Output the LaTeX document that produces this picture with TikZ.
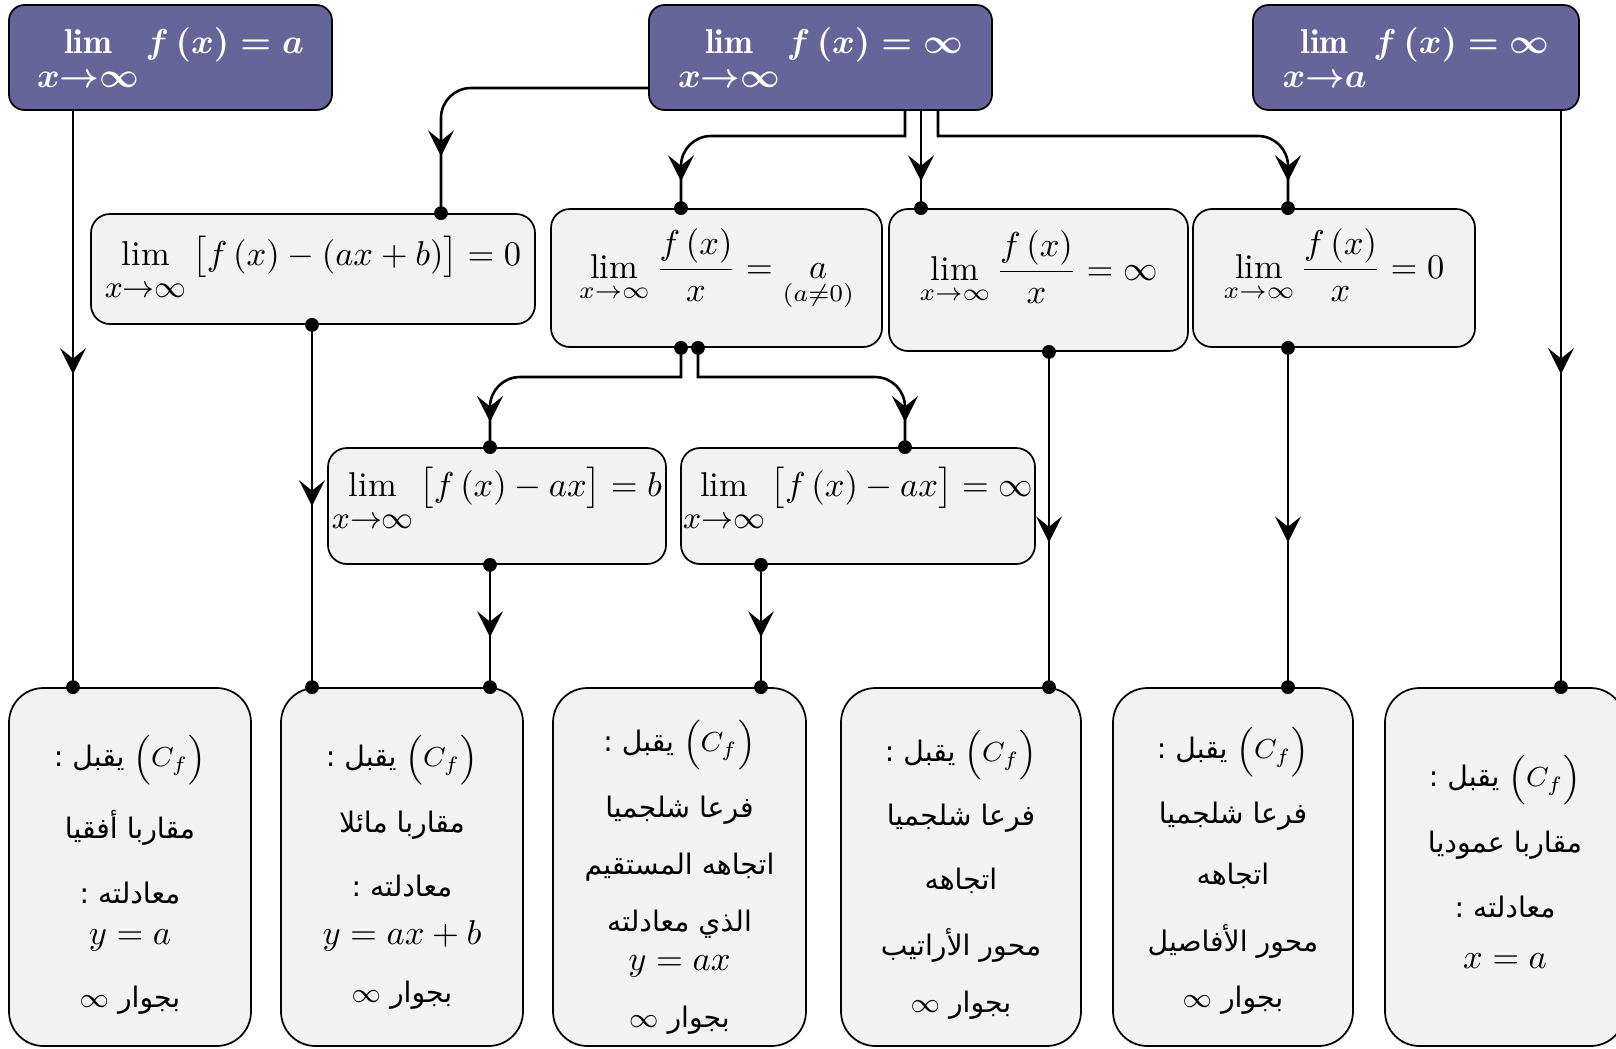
\documentclass[tikz,border=0pt]{standalone}
\usepackage{amsmath}
\usepackage{fontspec}
\newfontfamily\arabicfont[Script=Arabic]{DejaVu Sans}
\TeXXeTstate=1
\usetikzlibrary{arrows.meta,decorations.markings,calc}
\definecolor{topfill}{RGB}{101,101,154}
\definecolor{boxfill}{RGB}{242,242,242}
\newcommand{\ar}[1]{\beginR #1\endR}
\newcommand{\lt}[1]{\beginL$#1$\endL}
\newcommand{\subT}[1]{\mbox{\rule{0pt}{8.2pt}$#1$}}
\newcommand{\subG}[1]{\mbox{\fontsize{9}{9}\selectfont\rule{0pt}{7.6pt}$#1$}}
\begin{document}
\begin{tikzpicture}[x=0.29pt,y=-0.29pt,
  >={Stealth[length=7.5pt,width=7.5pt,inset=3pt]},
  topbox/.style={draw=black, line width=0.5pt, fill=topfill, rounded corners=4.5pt, text=white, font=\boldmath, inner sep=0pt, text height=10pt, text depth=12.4pt},
  graybox/.style={draw=black, line width=0.5pt, fill=boxfill, rounded corners=5.5pt, inner sep=0pt},
  fracbox/.style={graybox, text height=11pt, text depth=11pt},
  limbox/.style={graybox, text height=8pt, text depth=13.4pt},
  btmbox/.style={draw=black, line width=0.5pt, fill=boxfill, rounded corners=10pt, inner sep=0pt},
  conn/.style={line width=0.75pt},
  midarrow/.style={postaction={decorate}, decoration={markings, mark=at position #1 with {\arrow{>}}}},
  atext/.style={font=\arabicfont\fontsize{8.2}{10}\selectfont, inner sep=0pt},
  rc/.style={rounded corners=8.7pt}]
\useasboundingbox (0,0) rectangle (1616,1048);
% columns and rows
\coordinate (x73) at (73,0);
\coordinate (x312) at (312,0);
\coordinate (x441) at (441,0);
\coordinate (x490) at (490,0);
\coordinate (x681) at (681,0);
\coordinate (x698) at (698,0);
\coordinate (x761) at (761,0);
\coordinate (x905) at (905,0);
\coordinate (x921) at (921,0);
\coordinate (x938) at (938,0);
\coordinate (x1049) at (1049,0);
\coordinate (x1288) at (1288,0);
\coordinate (x1561) at (1561,0);
\coordinate (y88) at (0,88);
\coordinate (y136) at (0,136);
\coordinate (y377) at (0,377);
% top boxes
\node[topbox, minimum width=93.67pt, minimum height=30.45pt] (A) at (170.5,57.5)
  {$\lim\limits_{\subT{x{\to}\infty}} f\left(x\right)=a$};
\node[topbox, minimum width=99.47pt, minimum height=30.45pt] (B) at (820.5,57.5)
  {$\lim\limits_{\subT{x{\to}\infty}} f\left(x\right)=\infty$};
\node[topbox, minimum width=94.54pt, minimum height=30.45pt] (C) at (1416,57.5)
  {$\lim\limits_{\subT{x{\to}a}} f\left(x\right)=\infty$};
% second row
\node[graybox, minimum width=128.76pt, minimum height=31.9pt, text height=10pt, text depth=11.8pt] (D) at (313,269)
  {$\lim\limits_{\subG{x{\to}\infty}}\big[f\left(x\right)-(ax+b)\big]=0$};
\node[fracbox, minimum width=95.99pt, minimum height=40.02pt] (E) at (716.5,278)
  {$\displaystyle\lim_{x\to\infty}\frac{f\left(x\right)}{x}=\underset{(a\neq0)}{a}$};
\node[fracbox, minimum width=86.71pt, minimum height=41.18pt] (F) at (1038.5,280)
  {$\displaystyle\lim_{x\to\infty}\frac{f\left(x\right)}{x}=\infty$};
\node[fracbox, minimum width=81.78pt, minimum height=40.02pt] (G) at (1334,278)
  {$\displaystyle\lim_{x\to\infty}\frac{f\left(x\right)}{x}=0$};
% third row
\node[limbox, minimum width=98.02pt, minimum height=33.64pt] (H) at (497,506)
  {$\lim\limits_{\subG{x{\to}\infty}}\big[f\left(x\right)-ax\big]=b$};
\node[limbox, minimum width=102.66pt, minimum height=33.64pt] (I) at (858,506)
  {$\lim\limits_{\subG{x{\to}\infty}}\big[f\left(x\right)-ax\big]=\infty$};
% bottom boxes
\node[btmbox, minimum width=70.18pt, minimum height=103.82pt] (J1) at (130,867) {};
\node[btmbox, minimum width=70.18pt, minimum height=103.82pt] (J2) at (402,867) {};
\node[btmbox, minimum width=73.37pt, minimum height=103.82pt] (J3) at (679.5,867) {};
\node[btmbox, minimum width=69.6pt, minimum height=103.82pt] (J4) at (961,867) {};
\node[btmbox, minimum width=69.6pt, minimum height=103.82pt] (J5) at (1233,867) {};
\node[btmbox, minimum width=69.6pt, minimum height=103.82pt] (J6) at (1505,867) {};
% texts J1
\node[atext] (j1a) at (130,760) {\ar{\lt{\Big(C_f\Big)} يقبل :}};
\node[atext] (j1b) at (130,828) {\ar{مقاربا أفقيا}};
\node[atext] (j1c) at (130,893) {\ar{معادلته :}};
\node[inner sep=0pt] (j1d) at (130,940) {$y=a$};
\node[atext] (j1e) at (130,1000) {\ar{بجوار \lt{\infty}}};
% texts J2
\node[atext] (j2a) at (402,760) {\ar{\lt{\Big(C_f\Big)} يقبل :}};
\node[atext] (j2b) at (402,825) {\ar{مقاربا مائلا}};
\node[atext] (j2c) at (402,886) {\ar{معادلته :}};
\node[inner sep=0pt] (j2d) at (402,936) {$y=ax+b$};
\node[atext] (j2e) at (402,995) {\ar{بجوار \lt{\infty}}};
% texts J3
\node[atext] (j3a) at (679.5,745) {\ar{\lt{\Big(C_f\Big)} يقبل :}};
\node[atext] (j3b) at (679.5,810) {\ar{فرعا شلجميا}};
\node[atext] (j3c) at (679.5,867) {\ar{اتجاهه المستقيم}};
\node[atext] (j3d) at (679.5,924) {\ar{الذي معادلته}};
\node[inner sep=0pt] (j3e) at (679.5,966) {$y=ax$};
\node[atext] (j3f) at (679.5,1020) {\ar{بجوار \lt{\infty}}};
% texts J4
\node[atext] (j4a) at (961,755) {\ar{\lt{\Big(C_f\Big)} يقبل :}};
\node[atext] (j4b) at (961,818) {\ar{فرعا شلجميا}};
\node[atext] (j4c) at (961,881) {\ar{اتجاهه}};
\node[atext] (j4d) at (961,945) {\ar{محور الأراتيب}};
\node[atext] (j4e) at (961,1005) {\ar{بجوار \lt{\infty}}};
% texts J5
\node[atext] (j5a) at (1233,752) {\ar{\lt{\Big(C_f\Big)} يقبل :}};
\node[atext] (j5b) at (1233,816) {\ar{فرعا شلجميا}};
\node[atext] (j5c) at (1233,876) {\ar{اتجاهه}};
\node[atext] (j5d) at (1233,941) {\ar{محور الأفاصيل}};
\node[atext] (j5e) at (1233,1000) {\ar{بجوار \lt{\infty}}};
% texts J6
\node[atext] (j6a) at (1505,780) {\ar{\lt{\Big(C_f\Big)} يقبل :}};
\node[atext] (j6b) at (1505,845) {\ar{مقاربا عموديا}};
\node[atext] (j6c) at (1505,907) {\ar{معادلته :}};
\node[inner sep=0pt] (j6d) at (1505,961) {$x=a$};
% connectors
\draw[conn, midarrow=-90.8pt] (A.south -| x73) -- (J1.north -| x73);
\draw[conn, rc, midarrow=-16.5pt] (B.west |- y88) -| (x441 |- D.north);
\draw[conn, midarrow=-7.8pt] (x905 |- B.south) -- (x905 |- y136) [rc] -- (x681 |- y136) -- (x681 |- E.north);
\draw[conn, midarrow=-7.8pt] (x921 |- B.south) -- (x921 |- F.north);
\draw[conn, midarrow=-7.8pt] (x938 |- B.south) -- (x938 |- y136) [rc] -- (x1288 |- y136) -- (x1288 |- G.north);
\draw[conn, midarrow=-7.3pt] (x681 |- E.south) -- (x681 |- y377) [rc] -- (x490 |- y377) -- (x490 |- H.north);
\draw[conn, midarrow=-7.3pt] (x698 |- E.south) -- (x698 |- y377) [rc] -- (x905 |- y377) -- (x905 |- I.north);
\draw[conn, midarrow=-52.5pt] (D.south -| x312) -- (J2.north -| x312);
\draw[conn, midarrow=-14.5pt] (H.south -| x490) -- (J2.north -| x490);
\draw[conn, midarrow=-14.5pt] (I.south -| x761) -- (J3.north -| x761);
\draw[conn, midarrow=-42pt] (F.south -| x1049) -- (J4.north -| x1049);
\draw[conn, midarrow=-42pt] (G.south -| x1288) -- (J5.north -| x1288);
\draw[conn, midarrow=-90.8pt] (C.south -| x1561) -- (J6.north -| x1561);
% dots
\fill (J1.north -| x73) circle (2pt);
\fill (D.north -| x441) circle (2pt);
\fill (E.north -| x681) circle (2pt);
\fill (F.north -| x921) circle (2pt);
\fill (G.north -| x1288) circle (2pt);
\fill (E.south -| x681) circle (2pt);
\fill (E.south -| x698) circle (2pt);
\fill (H.north -| x490) circle (2pt);
\fill (I.north -| x905) circle (2pt);
\fill (D.south -| x312) circle (2pt);
\fill (J2.north -| x312) circle (2pt);
\fill (H.south -| x490) circle (2pt);
\fill (J2.north -| x490) circle (2pt);
\fill (I.south -| x761) circle (2pt);
\fill (J3.north -| x761) circle (2pt);
\fill (F.south -| x1049) circle (2pt);
\fill (J4.north -| x1049) circle (2pt);
\fill (G.south -| x1288) circle (2pt);
\fill (J5.north -| x1288) circle (2pt);
\fill (J6.north -| x1561) circle (2pt);
\end{tikzpicture}
\end{document}
